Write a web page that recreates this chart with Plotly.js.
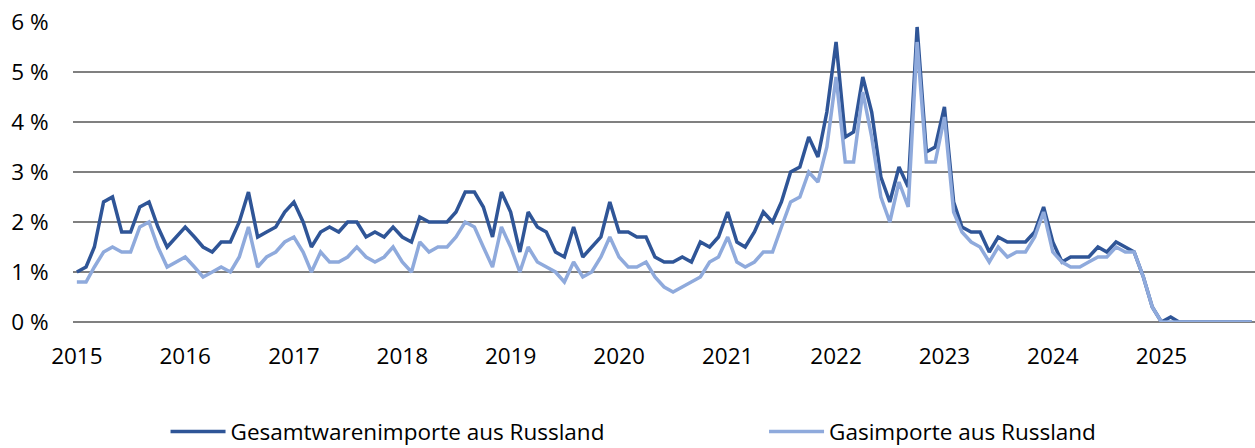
<!DOCTYPE html>
<html>
<head>
<meta charset="utf-8">
<script src="https://cdn.plot.ly/plotly-3.0.1.min.js"></script>
<style>html,body{margin:0;padding:0;background:#fff;}#chart{width:1255px;height:448px;}</style>
</head>
<body>
<div id="chart"></div>
<script>
// Monthly values, Jan 2015 – Nov 2025 (share of imports, %)
const startYear = 2015;
const gesamtwarenimporte = [
  1.0, 1.1, 1.5, 2.4, 2.5, 1.8, 1.8, 2.3, 2.4, 1.9, 1.5, 1.7,
  1.9, 1.7, 1.5, 1.4, 1.6, 1.6, 2.0, 2.6, 1.7, 1.8, 1.9, 2.2,
  2.4, 2.0, 1.5, 1.8, 1.9, 1.8, 2.0, 2.0, 1.7, 1.8, 1.7, 1.9,
  1.7, 1.6, 2.1, 2.0, 2.0, 2.0, 2.2, 2.6, 2.6, 2.3, 1.7, 2.6,
  2.2, 1.4, 2.2, 1.9, 1.8, 1.4, 1.3, 1.9, 1.3, 1.5, 1.7, 2.4,
  1.8, 1.8, 1.7, 1.7, 1.3, 1.2, 1.2, 1.3, 1.2, 1.6, 1.5, 1.7,
  2.2, 1.6, 1.5, 1.8, 2.2, 2.0, 2.4, 3.0, 3.1, 3.7, 3.3, 4.2,
  5.6, 3.7, 3.8, 4.9, 4.2, 2.9, 2.4, 3.1, 2.7, 5.9, 3.4, 3.5,
  4.3, 2.4, 1.9, 1.8, 1.8, 1.4, 1.7, 1.6, 1.6, 1.6, 1.8, 2.3,
  1.6, 1.2, 1.3, 1.3, 1.3, 1.5, 1.4, 1.6, 1.5, 1.4, 0.9, 0.3,
  0.0, 0.1, 0.0, 0.0, 0.0, 0.0, 0.0, 0.0, 0.0, 0.0, 0.0
];
const gasimporte = [
  0.8, 0.8, 1.1, 1.4, 1.5, 1.4, 1.4, 1.9, 2.0, 1.5, 1.1, 1.2,
  1.3, 1.1, 0.9, 1.0, 1.1, 1.0, 1.3, 1.9, 1.1, 1.3, 1.4, 1.6,
  1.7, 1.4, 1.0, 1.4, 1.2, 1.2, 1.3, 1.5, 1.3, 1.2, 1.3, 1.5,
  1.2, 1.0, 1.6, 1.4, 1.5, 1.5, 1.7, 2.0, 1.9, 1.5, 1.1, 1.9,
  1.5, 1.0, 1.5, 1.2, 1.1, 1.0, 0.8, 1.2, 0.9, 1.0, 1.3, 1.7,
  1.3, 1.1, 1.1, 1.2, 0.9, 0.7, 0.6, 0.7, 0.8, 0.9, 1.2, 1.3,
  1.7, 1.2, 1.1, 1.2, 1.4, 1.4, 1.9, 2.4, 2.5, 3.0, 2.8, 3.5,
  4.9, 3.2, 3.2, 4.6, 3.7, 2.5, 2.0, 2.8, 2.3, 5.6, 3.2, 3.2,
  4.1, 2.2, 1.8, 1.6, 1.5, 1.2, 1.5, 1.3, 1.4, 1.4, 1.7, 2.2,
  1.4, 1.2, 1.1, 1.1, 1.2, 1.3, 1.3, 1.5, 1.4, 1.4, 0.9, 0.3,
  0.0, 0.0, 0.0, 0.0, 0.0, 0.0, 0.0, 0.0, 0.0, 0.0, 0.0
];
const seriesNames = ['Gesamtwarenimporte aus Russland', 'Gasimporte aus Russland'];
const yTicks = [0, 1, 2, 3, 4, 5, 6];

const months = gesamtwarenimporte.map((_, i) => {
  const y = startYear + Math.floor(i / 12);
  const m = (i % 12) + 1;
  return y + '-' + String(m).padStart(2, '0') + '-01';
});

const font = 'Open Sans, Noto Sans, sans-serif';
const fs = 22.5;

const traces = [
  {x: months, y: gesamtwarenimporte, name: seriesNames[0], type: 'scatter', mode: 'lines',
   line: {color: '#2F5597', width: 3.5}, legend: 'legend'},
  {x: months, y: gasimporte, name: seriesNames[1], type: 'scatter', mode: 'lines',
   line: {color: '#8FAADC', width: 3.5}, legend: 'legend2'}
];

const legendBase = {orientation: 'h', xref: 'container', yref: 'container', y: 0.036,
  xanchor: 'left', yanchor: 'middle', itemwidth: 55, bgcolor: 'rgba(0,0,0,0)',
  font: {family: font, size: fs, color: '#000'}};

const layout = {
  width: 1255, height: 448,
  margin: {l: 73, r: 0, t: 22, b: 126, pad: 0},
  paper_bgcolor: '#fff', plot_bgcolor: '#fff',
  font: {family: font, size: fs, color: '#000'},
  showlegend: true,
  legend: Object.assign({}, legendBase, {x: 0.1319}),
  legend2: Object.assign({}, legendBase, {x: 0.6088}),
  xaxis: {
    type: 'date',
    range: ['2014-12-19', '2025-11-12'],
    tickmode: 'linear', tick0: '2015-01-01', dtick: 'M12', tickformat: '%Y',
    showgrid: false, zeroline: false, showline: false,
    ticks: 'outside', ticklen: 14, tickcolor: 'rgba(0,0,0,0)',
    tickfont: {family: font, size: fs, color: '#000'}
  },
  yaxis: {
    range: [0, 6], tickmode: 'array', tickvals: yTicks, ticktext: yTicks.map(v => v + ' %'),
    showgrid: true, gridcolor: '#808080', gridwidth: 1.6,
    zeroline: true, zerolinecolor: '#808080', zerolinewidth: 1.6, showline: false,
    ticks: 'outside', ticklen: 19, tickcolor: 'rgba(0,0,0,0)',
    tickfont: {family: font, size: fs, color: '#000'}
  }
};

Plotly.newPlot('chart', traces, layout, {displayModeBar: false, staticPlot: true});
</script>
</body>
</html>
